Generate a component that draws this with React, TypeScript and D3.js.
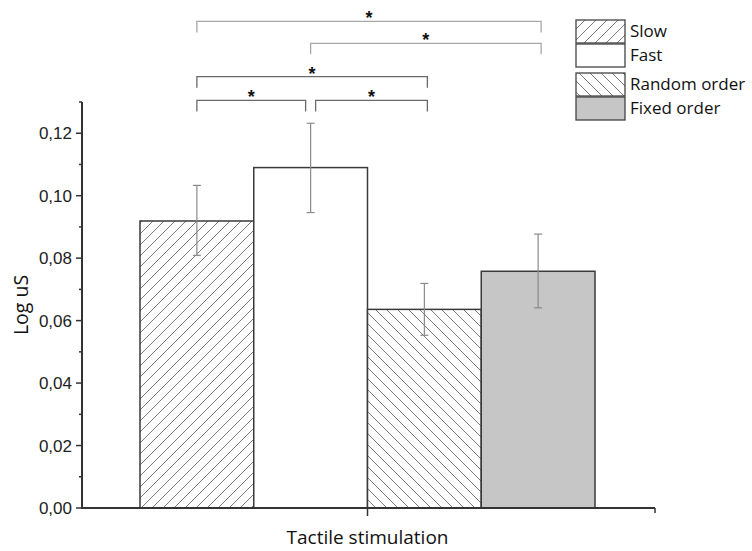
import React from "react";
import * as d3 from "d3";

const series = ["Slow", "Fast", "Random order", "Fixed order"];
const means = [0.0919, 0.109, 0.0636, 0.0758];
const errHigh = [0.1033, 0.1232, 0.0719, 0.0877];
const errLow = [0.0809, 0.0946, 0.0553, 0.0641];
const yTicks = [0, 0.02, 0.04, 0.06, 0.08, 0.1, 0.12];
const yMinorTicks = [0.01, 0.03, 0.05, 0.07, 0.09, 0.11, 0.13];
const category = "Tactile stimulation";
const yTitle = "Log uS";
// significance brackets: [from index, to index, height in data units]
const bracketFrom = [0, 1, 0, 0, 1];
const bracketTo = [3, 3, 2, 1, 2];
const bracketLevel = [0.1558, 0.1488, 0.1381, 0.1305, 0.1305];

const W = 752;
const H = 551;

export default function App() {
  const y = d3.scaleLinear().domain([0, 0.13]).range([508, 102]);
  const x = d3.scaleBand<string>().domain(series).range([140, 595]).padding(0);
  const axisX0 = 82;
  const axisX1 = 655;
  const bw = x.bandwidth();
  const cx = (i: number) => (x(series[i]) as number) + bw / 2;
  const fills = ["url(#hatchR)", "#ffffff", "url(#hatchL)", "#c6c6c6"];
  const fmt = (v: number) => d3.format(".2f")(v).replace(".", ",");
  const legendY = (i: number) => 20 + i * 24 + (i >= 2 ? 5 : 0);

  return (
    <svg width={W} height={H} style={{ position: "absolute", left: 0, top: 0, background: "#fff" }}>
      <defs>
        <pattern id="hatchR" patternUnits="userSpaceOnUse" width={11} height={11}>
          <rect width={11} height={11} fill="#fff" />
          <path d="M-1,1 L1,-1 M0,11 L11,0 M10,12 L12,10" stroke="#7a7a7a" strokeWidth={1} />
        </pattern>
        <pattern id="hatchL" patternUnits="userSpaceOnUse" width={11} height={11}>
          <rect width={11} height={11} fill="#fff" />
          <path d="M-1,10 L1,12 M0,0 L11,11 M10,-1 L12,1" stroke="#7a7a7a" strokeWidth={1} />
        </pattern>
      </defs>

      {/* bars */}
      {series.map((s, i) => (
        <rect
          key={s}
          x={x(s)}
          y={y(means[i])}
          width={bw}
          height={y(0) - y(means[i])}
          fill={fills[i]}
          stroke="#3a3a3a"
          strokeWidth={1.5}
        />
      ))}

      {/* error bars */}
      {series.map((s, i) => (
        <g key={"e" + s} stroke="#8a8a8a" strokeWidth={1.2}>
          <line x1={cx(i)} x2={cx(i)} y1={y(errHigh[i])} y2={y(errLow[i])} />
          <line x1={cx(i) - 4} x2={cx(i) + 4} y1={y(errHigh[i])} y2={y(errHigh[i])} />
          <line x1={cx(i) - 4} x2={cx(i) + 4} y1={y(errLow[i])} y2={y(errLow[i])} />
        </g>
      ))}

      {/* y axis */}
      <line x1={axisX0} x2={axisX0} y1={y(0.13)} y2={y(0) + 1} stroke="#333" strokeWidth={2} />
      {yTicks.map((t) => (
        <g key={"t" + t}>
          <line x1={axisX0 - 6} x2={axisX0} y1={y(t)} y2={y(t)} stroke="#333" strokeWidth={1.5} />
          <text
            x={axisX0 - 10}
            y={y(t)}
            dy="0.36em"
            textAnchor="end"
            fontFamily="Liberation Sans, Arial, sans-serif"
            fontSize={17}
            fill="#222"
          >
            {fmt(t)}
          </text>
        </g>
      ))}
      {yMinorTicks.map((t) => (
        <line key={"m" + t} x1={axisX0 - 3} x2={axisX0} y1={y(t)} y2={y(t)} stroke="#333" strokeWidth={1.5} />
      ))}
      <text
        transform={`translate(28,305) rotate(-90)`}
        textAnchor="middle"
        fontFamily="Open Sans, sans-serif"
        fontSize={19.5}
        fill="#111"
      >
        {yTitle}
      </text>

      {/* x axis */}
      <line x1={axisX0} x2={axisX1} y1={y(0)} y2={y(0)} stroke="#333" strokeWidth={2} />
      <line x1={(140 + 595) / 2} x2={(140 + 595) / 2} y1={y(0)} y2={y(0) + 8} stroke="#333" strokeWidth={1.5} />
      <line x1={axisX1} x2={axisX1} y1={y(0)} y2={y(0) + 5} stroke="#333" strokeWidth={1.5} />
      <text
        x={(140 + 595) / 2}
        y={544}
        textAnchor="middle"
        fontFamily="Open Sans, sans-serif"
        fontSize={19}
        fill="#111"
      >
        {category}
      </text>

      {/* significance brackets */}
      {bracketFrom.map((f, k) => {
        const t = bracketTo[k];
        const lvl = bracketLevel[k];
        const shareLeft = bracketTo.some((tt, j) => j !== k && tt === f && bracketLevel[j] === lvl);
        const shareRight = bracketFrom.some((ff, j) => j !== k && ff === t && bracketLevel[j] === lvl);
        const x1 = cx(f) + (shareLeft ? 5 : 0);
        const x2 = cx(t) + (shareRight ? -5 : 3);
        const yy = y(lvl);
        const col = k < 2 ? "#a8a8a8" : "#6a6a6a";
        return (
          <g key={"b" + k}>
            <path d={`M${x1},${yy + 11} V${yy} H${x2} V${yy + 11}`} fill="none" stroke={col} strokeWidth={1.3} />
            <text
              x={(x1 + x2) / 2}
              y={yy + 3}
              textAnchor="middle"
              fontFamily="Liberation Sans, Arial, sans-serif"
              fontSize={18}
              fontWeight="bold"
              fill="#111"
            >
              *
            </text>
          </g>
        );
      })}

      {/* legend */}
      {series.map((s, i) => (
        <g key={"l" + s}>
          <rect x={576} y={legendY(i)} width={49} height={23} fill={fills[i]} stroke="#444" strokeWidth={1.3} />
          <text
            x={630}
            y={legendY(i) + 17}
            fontFamily="Open Sans, sans-serif"
            fontSize={17}
            fill="#111"
          >
            {s}
          </text>
        </g>
      ))}
    </svg>
  );
}
